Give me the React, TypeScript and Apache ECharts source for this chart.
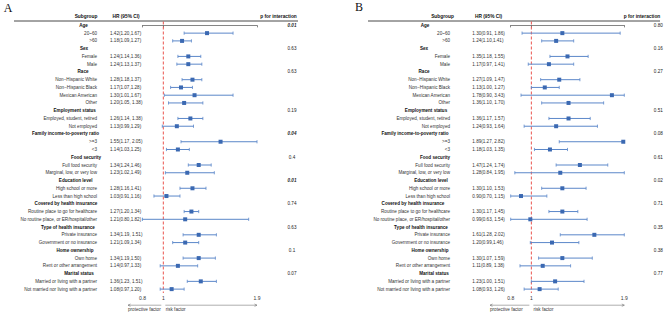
import React, { useEffect, useRef } from "react";
import * as echarts from "echarts";

// ---------- data ----------
const groups = [
  "Age",
  "Sex",
  "Race",
  "Employment status",
  "Family income-to-poverty ratio",
  "Food security",
  "Education level",
  "Covered by health insurance",
  "Type of health insurance",
  "Home ownership",
  "Marital status",
];
const subgroups = [
  ["20~60", ">60"],
  ["Female", "Male"],
  ["Non\u2212Hispanic White", "Non\u2212Hispanic Black", "Mexican American", "Other"],
  ["Employed, student, retired", "Not employed"],
  [">=3", "<3"],
  ["Full food security", "Marginal, low, or very low"],
  ["High school or more", "Less than high school"],
  ["Routine place to go for healthcare", "No routine place, or ER/hospital/other"],
  ["Private insurance", "Government or no insurance"],
  ["Own home", "Rent or other arrangement"],
  ["Married or living with a partner", "Not married nor living with a partner"],
];

// Panel A
const hrA = [1.42, 1.18, 1.24, 1.24, 1.28, 1.17, 1.3, 1.2, 1.26, 1.13, 1.55, 1.14, 1.34, 1.23, 1.28, 1.03, 1.27, 1.21, 1.34, 1.21, 1.34, 1.14, 1.36, 1.08];
const loA = [1.2, 1.09, 1.14, 1.13, 1.18, 1.07, 1.01, 1.05, 1.14, 0.99, 1.17, 1.03, 1.24, 1.02, 1.16, 0.91, 1.2, 0.8, 1.19, 1.09, 1.19, 0.97, 1.23, 0.97];
const hiA = [1.67, 1.27, 1.36, 1.37, 1.37, 1.28, 1.67, 1.38, 1.38, 1.29, 2.05, 1.25, 1.46, 1.49, 1.41, 1.16, 1.34, 1.82, 1.51, 1.34, 1.5, 1.33, 1.51, 1.2];
const textA = [
  "1.42(1.20,1.67)", "1.18(1.09,1.27)", "1.24(1.14,1.36)", "1.24(1.13,1.37)",
  "1.28(1.18,1.37)", "1.17(1.07,1.28)", "1.30(1.01,1.67)", "1.20(1.05, 1.38)",
  "1.26(1.14, 1.38)", "1.13(0.99,1.29)", "1.55(1.17, 2.05)", "1.14(1.03,1.25)",
  "1.34(1.24,1.46)", "1.23(1.02,1.49)", "1.28(1.16,1.41)", "1.03(0.91,1.16)",
  "1.27(1.20,1.34)", "1.21(0.80,1.82)", "1.34(1.19, 1.51)", "1.21(1.09,1.34)",
  "1.34(1.19,1.50)", "1.14(0.97,1.33)", "1.36(1.23, 1.51)", "1.08(0.97,1.20)",
];
const pA = ["0.01", "0.63", "0.63", "0.19", "0.04", "0.4", "0.01", "0.74", "0.63", "0.1", "0.07"];
const pBoldA = [true, false, false, false, true, false, true, false, false, false, false];

// Panel B
const hrB = [1.3, 1.24, 1.35, 1.17, 1.27, 1.13, 1.78, 1.36, 1.36, 1.24, 1.89, 1.18, 1.47, 1.28, 1.3, 0.9, 1.3, 0.99, 1.61, 1.2, 1.3, 1.11, 1.23, 1.08];
const loB = [0.91, 1.1, 1.18, 0.97, 1.09, 1.0, 0.9, 1.1, 1.17, 0.93, 1.27, 1.03, 1.24, 0.84, 1.1, 0.7, 1.17, 0.63, 1.28, 0.99, 1.07, 0.89, 1.0, 0.93];
const hiB = [1.86, 1.41, 1.55, 1.41, 1.47, 1.27, 3.43, 1.7, 1.57, 1.64, 2.82, 1.35, 1.74, 1.95, 1.53, 1.15, 1.45, 1.54, 2.02, 1.46, 1.59, 1.38, 1.51, 1.26];
const textB = [
  "1.30(0.91, 1.86)", "1.24(1.10,1.41)", "1.35(1.18, 1.55)", "1.17(0.97, 1.41)",
  "1.27(1.09, 1.47)", "1.13(1.00, 1.27)", "1.78(0.90, 3.43)", "1.36(1.10, 1.70)",
  "1.36(1.17, 1.57)", "1.24(0.93, 1.64)", "1.89(1.27, 2.82)", "1.18(1.03, 1.35)",
  "1.47(1.24, 1.74)", "1.28(0.84, 1.95)", "1.30(1.10, 1.53)", "0.90(0.70, 1.15)",
  "1.30(1.17, 1.45)", "0.99(0.63, 1.54)", "1.61(1.28, 2.02)", "1.20(0.99,1.46)",
  "1.30(1.07, 1.59)", "1.11(0.89, 1.38)", "1.23(1.00, 1.51)", "1.08(0.93, 1.26)",
];
const pB = ["0.80", "0.16", "0.27", "0.51", "0.08", "0.61", "0.02", "0.71", "0.35", "0.38", "0.77"];
const pBoldB = [false, false, false, false, false, false, false, false, false, false, false];

const xTicks = [0.8, 1, 1.9];
const xMin = 0.8;
const xMax = 1.9;
const refValue = 1;

// ---------- layout ----------
const FONT = "'Liberation Sans', Arial, sans-serif";
const GRID_TOP = 21.5;
const GRID_H = 271.5;
const N_ROWS = groups.length + subgroups.reduce((s, g) => s + g.length, 0);
const rowY = (i: number) => GRID_TOP + ((i + 0.5) * GRID_H) / N_ROWS;

const panels = [
  {
    letter: "A", letterX: 8, letterY: 8,
    gridLeft: 142.5, gridRight: 257,
    lineX1: 14, lineX2: 298,
    subHeadX: 86, hrHeadX: 112.5, pHeadX: 278.5,
    subRight: 97, hrLeft: 110, pX: 292,
    groupCx: [83.5, 84, 83, 74.7, 65.5, 86, 75.7, 66, 68, 75, 79],
    protX: 128, riskX: 165.7,
    hr: hrA, lo: loA, hi: hiA, text: textA, p: pA, pBold: pBoldA,
  },
  {
    letter: "B", letterX: 359, letterY: 7,
    gridLeft: 510.7, gridRight: 624.3,
    lineX1: 368, lineX2: 660,
    subHeadX: 442.5, hrHeadX: 475, pHeadX: 642,
    subRight: 450, hrLeft: 472.3, pX: 658.3,
    groupCx: [425, 424, 424, 426, 415, 435, 431, 413, 421, 430, 434],
    protX: 490, riskX: 533.5,
    hr: hrB, lo: loB, hi: hiB, text: textB, p: pB, pBold: pBoldB,
  },
];

function txt(text: string, x: number, y: number, size: number, align: string, extra: any = {}) {
  return {
    type: "text",
    silent: true,
    x,
    y,
    style: {
      text,
      fontSize: size,
      fontFamily: FONT,
      fill: "#333",
      textAlign: align,
      textVerticalAlign: "middle",
      ...extra,
    },
  };
}

function buildOption() {
  const grids: any[] = [];
  const xAxes: any[] = [];
  const yAxes: any[] = [];
  const series: any[] = [];
  const graphics: any[] = [];

  panels.forEach((pn, pi) => {
    grids.push({
      left: pn.gridLeft,
      width: pn.gridRight - pn.gridLeft,
      top: GRID_TOP,
      height: GRID_H,
    });
    xAxes.push({
      type: "value",
      gridIndex: pi,
      min: xMin,
      max: xMax,
      splitLine: { show: false },
      axisLine: { lineStyle: { color: "#666", width: 0.8 } },
      axisTick: { customValues: xTicks, length: 2, lineStyle: { color: "#666", width: 0.8 } },
      axisLabel: {
        customValues: xTicks,
        fontSize: 5,
        margin: 2.5,
        color: "#333",
        fontFamily: FONT,
        showMinLabel: true,
        showMaxLabel: true,
      },
    });
    yAxes.push({
      type: "value",
      gridIndex: pi,
      min: -0.5,
      max: N_ROWS - 0.5,
      inverse: true,
      show: false,
    });

    const data: number[][] = [];
    let row = 0;
    let k = 0;
    groups.forEach((g, gi) => {
      const hy = rowY(row);
      graphics.push(txt(g, pn.groupCx[gi], hy, 4.6, "center", { fontWeight: "bold", fill: "#111" }));
      graphics.push(
        txt(pn.p[gi], pn.pX, hy, 4.6, "center", {
          fill: "#222",
          fontWeight: pn.pBold[gi] ? "bold" : "normal",
          fontStyle: pn.pBold[gi] ? "italic" : "normal",
        })
      );
      row++;
      subgroups[gi].forEach((s) => {
        const y = rowY(row);
        graphics.push(txt(s, pn.subRight, y, 4.6, "right"));
        graphics.push(txt(pn.text[k], pn.hrLeft, y, 4.6, "left"));
        data.push([pn.lo[k], pn.hi[k], pn.hr[k], row]);
        k++;
        row++;
      });
    });

    series.push({
      type: "line",
      xAxisIndex: pi,
      yAxisIndex: pi,
      data: [
        [refValue, -0.5],
        [refValue, N_ROWS - 0.5],
      ],
      symbol: "none",
      silent: true,
      lineStyle: { color: "#e8413a", type: [3, 2], width: 0.9 },
      z: 2,
    });

    series.push({
      type: "custom",
      xAxisIndex: pi,
      yAxisIndex: pi,
      encode: { x: [0, 1, 2], y: 3 },
      data,
      renderItem: (params: any, api: any) => {
        const lo = Math.max(api.value(0), xMin);
        const hi = Math.min(api.value(1), xMax);
        const hr = api.value(2);
        const r = api.value(3);
        const p1 = api.coord([lo, r]);
        const p2 = api.coord([hi, r]);
        const pc = api.coord([hr, r]);
        const c = "#5b87c9";
        const cap = 1.6;
        return {
          type: "group",
          children: [
            { type: "line", shape: { x1: p1[0], y1: p1[1], x2: p2[0], y2: p2[1] }, style: { stroke: c, lineWidth: 1 } },
            { type: "line", shape: { x1: p1[0], y1: p1[1] - cap, x2: p1[0], y2: p1[1] + cap }, style: { stroke: c, lineWidth: 0.8 } },
            { type: "line", shape: { x1: p2[0], y1: p2[1] - cap, x2: p2[0], y2: p2[1] + cap }, style: { stroke: c, lineWidth: 0.8 } },
            { type: "rect", shape: { x: pc[0] - 2, y: pc[1] - 2, width: 4, height: 4 }, style: { fill: "#3b69b2" } },
          ],
        };
      },
      z: 3,
    });

    graphics.push(
      txt(pn.letter, pn.letterX, pn.letterY, 12, "center", {
        fontFamily: "'Liberation Serif', 'DejaVu Serif', serif",
        fill: "#111",
      })
    );
    const headY = 16.7;
    graphics.push(txt("Subgroup", pn.subHeadX, headY, 4.8, "center", { fontWeight: "bold", fill: "#111" }));
    graphics.push(txt("HR (95% CI)", pn.hrHeadX, headY, 4.8, "left", { fontWeight: "bold", fill: "#111" }));
    graphics.push(txt("p for interaction", pn.pHeadX, headY, 4.8, "center", { fontWeight: "bold", fill: "#111" }));
    graphics.push({
      type: "line", silent: true,
      shape: { x1: pn.lineX1, y1: 21, x2: pn.lineX2, y2: 21 },
      style: { stroke: "#333", lineWidth: 0.9 },
    });

    const ay = 305.2;
    const x1 = pn.gridLeft + ((refValue - xMin) / (xMax - xMin)) * (pn.gridRight - pn.gridLeft);
    const arrowColor = "#777";
    graphics.push({ type: "line", silent: true, shape: { x1: pn.protX, y1: ay, x2: x1 - 2, y2: ay }, style: { stroke: arrowColor, lineWidth: 0.6 } });
    graphics.push({ type: "polyline", silent: true, shape: { points: [[pn.protX + 2.5, ay - 1.2], [pn.protX, ay], [pn.protX + 2.5, ay + 1.2]] }, style: { stroke: arrowColor, lineWidth: 0.6, fill: "none" } });
    graphics.push({ type: "line", silent: true, shape: { x1: x1 + 2, y1: ay, x2: pn.gridRight, y2: ay }, style: { stroke: arrowColor, lineWidth: 0.6 } });
    graphics.push({ type: "polyline", silent: true, shape: { points: [[pn.gridRight - 2.5, ay - 1.2], [pn.gridRight, ay], [pn.gridRight - 2.5, ay + 1.2]] }, style: { stroke: arrowColor, lineWidth: 0.6, fill: "none" } });
    graphics.push(txt("protective factor", pn.protX, ay + 4, 4.6, "left"));
    graphics.push(txt("risk factor", pn.riskX, ay + 4, 4.6, "left"));
  });

  return {
    animation: false,
    backgroundColor: "#fff",
    grid: grids,
    xAxis: xAxes,
    yAxis: yAxes,
    series,
    graphic: { elements: graphics },
  };
}

export default function App() {
  const ref = useRef<HTMLDivElement>(null);
  useEffect(() => {
    if (!ref.current) return;
    const chart = echarts.init(ref.current, undefined, { renderer: "svg" });
    chart.setOption(buildOption() as any);
    return () => chart.dispose();
  }, []);
  return (
    <div
      ref={ref}
      style={{ position: "fixed", left: 0, top: 0, width: 669, height: 313, background: "#fff" }}
    />
  );
}
